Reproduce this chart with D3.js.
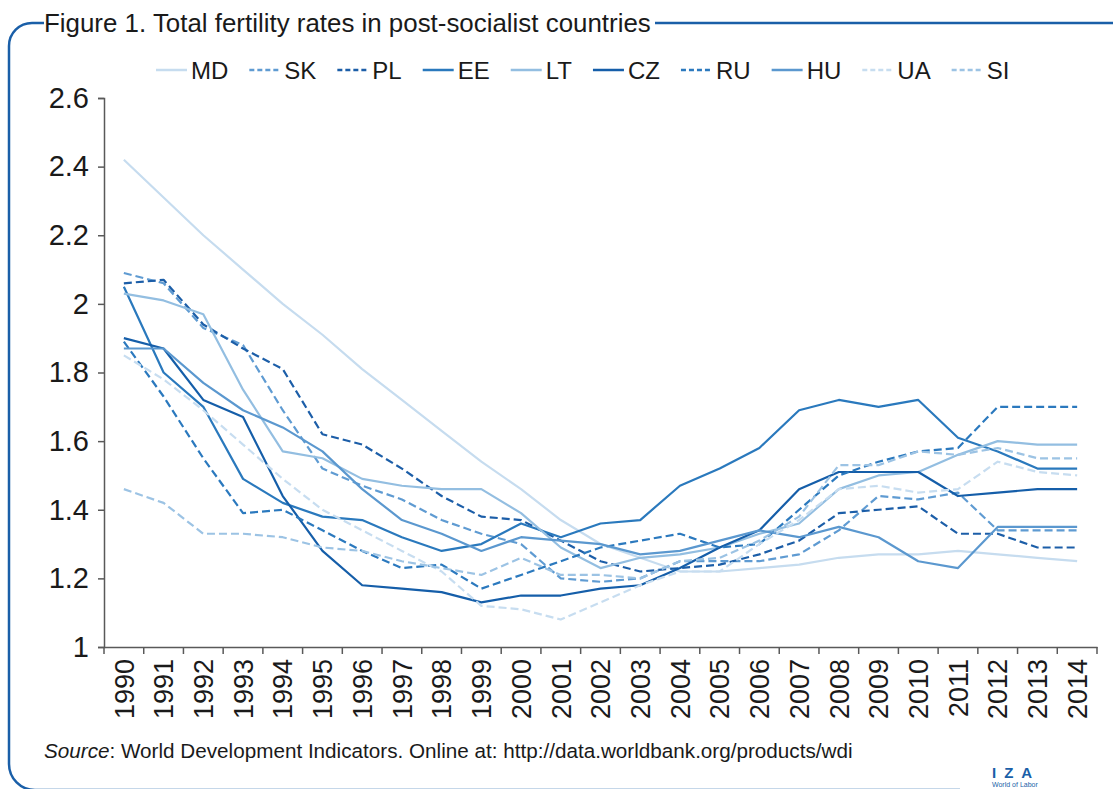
<!DOCTYPE html>
<html><head><meta charset="utf-8">
<script src="https://cdn.jsdelivr.net/npm/d3@7"></script>
<style>
body{margin:0;background:#fff;}
svg{display:block;}
text{font-family:"Liberation Sans", Arial, sans-serif;fill:#1a1a1a;}
</style></head><body>
<svg id="c" width="1113" height="789"></svg>
<script>
// ---------- data ----------
const years = [1990,1991,1992,1993,1994,1995,1996,1997,1998,1999,2000,2001,2002,2003,2004,2005,2006,2007,2008,2009,2010,2011,2012,2013,2014];
const countries = ["MD","SK","PL","EE","LT","CZ","RU","HU","UA","SI"];
const MD = [2.42,2.31,2.20,2.10,2.00,1.91,1.81,1.72,1.63,1.54,1.46,1.37,1.30,1.26,1.22,1.22,1.23,1.24,1.26,1.27,1.27,1.28,1.27,1.26,1.25];
const SK = [2.09,2.06,1.93,1.88,1.69,1.52,1.47,1.43,1.37,1.33,1.30,1.20,1.19,1.20,1.25,1.25,1.25,1.27,1.34,1.44,1.43,1.45,1.34,1.34,1.34];
const PL = [2.06,2.07,1.94,1.87,1.81,1.62,1.59,1.52,1.44,1.38,1.37,1.31,1.25,1.22,1.23,1.24,1.27,1.31,1.39,1.40,1.41,1.33,1.33,1.29,1.29];
const EE = [2.05,1.80,1.70,1.49,1.42,1.38,1.37,1.32,1.28,1.30,1.36,1.32,1.36,1.37,1.47,1.52,1.58,1.69,1.72,1.70,1.72,1.61,1.57,1.52,1.52];
const LT = [2.03,2.01,1.97,1.75,1.57,1.55,1.49,1.47,1.46,1.46,1.39,1.29,1.23,1.26,1.27,1.29,1.33,1.36,1.46,1.50,1.51,1.56,1.60,1.59,1.59];
const CZ = [1.90,1.87,1.72,1.67,1.44,1.28,1.18,1.17,1.16,1.13,1.15,1.15,1.17,1.18,1.23,1.29,1.34,1.46,1.51,1.51,1.51,1.44,1.45,1.46,1.46];
const RU = [1.89,1.73,1.55,1.39,1.40,1.34,1.28,1.23,1.24,1.17,1.21,1.25,1.29,1.31,1.33,1.29,1.30,1.40,1.50,1.54,1.57,1.58,1.70,1.70,1.70];
const HU = [1.87,1.87,1.77,1.69,1.64,1.57,1.46,1.37,1.33,1.28,1.32,1.31,1.30,1.27,1.28,1.31,1.34,1.32,1.35,1.32,1.25,1.23,1.35,1.35,1.35];
const UA = [1.85,1.78,1.69,1.59,1.49,1.40,1.34,1.28,1.22,1.12,1.11,1.08,1.13,1.18,1.22,1.22,1.30,1.37,1.46,1.47,1.45,1.46,1.54,1.51,1.50];
const SI = [1.46,1.42,1.33,1.33,1.32,1.29,1.28,1.25,1.23,1.21,1.26,1.21,1.21,1.20,1.25,1.26,1.31,1.38,1.53,1.53,1.57,1.56,1.58,1.55,1.55];
const yTicks = [1,1.2,1.4,1.6,1.8,2,2.2,2.4,2.6];
const yTickLabels = ["1","1.2","1.4","1.6","1.8","2","2.2","2.4","2.6"];
const titleText = "Figure 1. Total fertility rates in post-socialist countries";
const sourceItalic = "Source";
const sourceRest = ": World Development Indicators. Online at: http://data.worldbank.org/products/wdi";

// ---------- styles ----------
const colors = {MD:"#c6dcef",SK:"#5f9bd2",PL:"#1c5ea8",EE:"#2a79bd",LT:"#93bee1",CZ:"#155ea9",RU:"#2b79be",HU:"#5b98cf",UA:"#c7ddf0",SI:"#9cc3e4"};
const dashed = {MD:false,SK:true,PL:true,EE:false,LT:false,CZ:false,RU:true,HU:false,UA:true,SI:true};
const seriesValues = {MD,SK,PL,EE,LT,CZ,RU,HU,UA,SI};
const frameBlue = "#1a5fa8";

const svg = d3.select("#c");
const x = d3.scaleBand().domain(years).range([104,1097]).padding(0);
const y = d3.scaleLinear().domain([1,2.6]).range([647,98]);

// frame
svg.append("path")
  .attr("d","M44,23 H32 A23,23 0 0 0 9,46 V764 A26,26 0 0 0 35,790 H960")
  .attr("fill","none").attr("stroke",frameBlue).attr("stroke-width",2.5);

// title
const title = svg.append("text").attr("x",44).attr("y",32).attr("font-size",25).text(titleText);
{
  const len = title.node().getComputedTextLength();
  title.attr("font-size", 25*607/len);
}
svg.append("line").attr("x1",655).attr("x2",1113).attr("y1",23).attr("y2",23)
  .attr("stroke",frameBlue).attr("stroke-width",2.5);

// y axis
const yAxis = d3.axisLeft(y).tickValues(yTicks).tickFormat((d,i)=>yTickLabels[i]).tickSize(6).tickPadding(9);
const gy = svg.append("g").attr("transform","translate(104,0)").call(yAxis);
gy.select(".domain").attr("stroke","#595959").attr("stroke-width",1.5);
gy.selectAll(".tick line").attr("stroke","#595959").attr("stroke-width",1.5);
gy.selectAll(".tick text").attr("font-size",29).attr("font-family","Liberation Sans, Arial, sans-serif").attr("fill","#1a1a1a");

// x axis (labels)
const xAxis = d3.axisBottom(x).tickSize(0).tickPadding(0);
const gx = svg.append("g").attr("transform","translate(0,647)").call(xAxis);
gx.select(".domain").attr("stroke","#595959").attr("stroke-width",1.5);
gx.selectAll(".tick text")
  .attr("font-size",27).attr("font-family","Liberation Sans, Arial, sans-serif").attr("fill","#1a1a1a")
  .attr("transform","rotate(-90)").attr("text-anchor","end")
  .attr("x",-12).attr("y",0).attr("dy","0.36em");
// boundary ticks
const bounds = years.map(yv=>x(yv)).concat([x(years[years.length-1])+x.bandwidth()]);
svg.append("g").selectAll("line").data(bounds).join("line")
  .attr("x1",d=>d).attr("x2",d=>d).attr("y1",647).attr("y2",654)
  .attr("stroke","#595959").attr("stroke-width",1.5);

// lines
const line = d3.line().x((d,i)=>x(years[i])+x.bandwidth()/2).y(d=>y(d));
svg.append("g").selectAll("path").data(countries).join("path")
  .attr("d",c=>line(seriesValues[c]))
  .attr("fill","none").attr("stroke",c=>colors[c]).attr("stroke-width",2.2)
  .attr("stroke-linejoin","round")
  .attr("stroke-dasharray",c=>dashed[c]?"8,4":null);

// legend
const lg = svg.append("g");
let lx = 156;
countries.forEach(c=>{
  lg.append("line").attr("x1",lx).attr("x2",lx+31).attr("y1",70).attr("y2",70)
    .attr("stroke",colors[c]).attr("stroke-width",2.5)
    .attr("stroke-dasharray",dashed[c]?"5,3":null);
  const t = lg.append("text").attr("x",lx+35).attr("y",78.5).attr("font-size",24).text(c);
  lx += 35 + t.node().getComputedTextLength() + 21;
});

// source
const src = svg.append("text").attr("x",44).attr("y",758).attr("font-size",20);
src.append("tspan").attr("font-style","italic").text(sourceItalic);
src.append("tspan").text(sourceRest);
{
  const len = src.node().getComputedTextLength();
  src.attr("font-size",20*809/len);
}

// logo
svg.append("text").attr("x",992).attr("y",778).attr("font-size",15).attr("font-weight","bold")
  .attr("letter-spacing",8).style("fill",frameBlue).text("IZA");
svg.append("text").attr("x",992).attr("y",787).attr("font-size",7)
  .style("fill",frameBlue).text("World of Labor");
</script>
</body></html>
